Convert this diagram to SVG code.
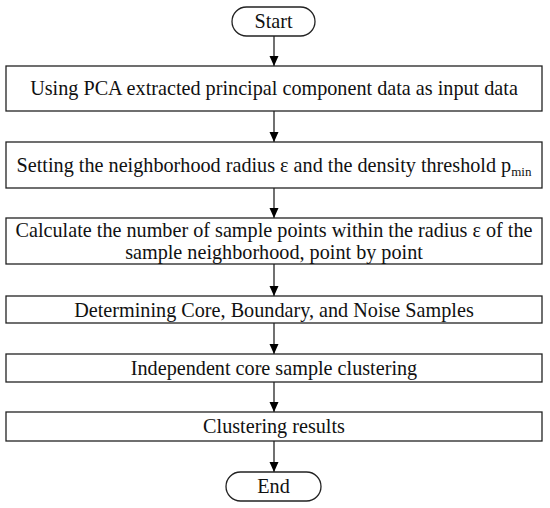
<svg xmlns="http://www.w3.org/2000/svg" width="550" height="508" viewBox="0 0 550 508">
<defs>
<marker id="ah" markerWidth="10" markerHeight="10" refX="10" refY="4.5" orient="auto" markerUnits="userSpaceOnUse">
<path d="M0,0 L10,4.5 L0,9 Z" fill="#000"/>
</marker>
<style>
.box{fill:#fff;stroke:#222;stroke-width:1.3}
.t{font-family:"Liberation Serif","Times New Roman",serif;font-size:20.2px;fill:#111;text-anchor:middle}
.c{stroke:#111;stroke-width:1.2;fill:none;marker-end:url(#ah)}
</style>
</defs>
<rect width="550" height="508" fill="#fff"/>
<g id="connectors">
<line class="c" x1="274" y1="36" x2="274" y2="66"/>
<line class="c" x1="274" y1="111" x2="274" y2="142"/>
<line class="c" x1="274" y1="188" x2="274" y2="218"/>
<line class="c" x1="274" y1="264" x2="274" y2="296"/>
<line class="c" x1="274" y1="323" x2="274" y2="354"/>
<line class="c" x1="274" y1="382" x2="274" y2="412"/>
<line class="c" x1="274" y1="441" x2="274" y2="472"/>
</g>
<g id="start">
<rect class="box" x="232" y="7" width="83" height="29" rx="14.5"/>
<text class="t" x="273.5" y="28">Start</text>
</g>
<g id="step1">
<rect class="box" x="6" y="66" width="536" height="45"/>
<text class="t" x="274" y="95">Using PCA extracted principal component data as input data</text>
</g>
<g id="step2">
<rect class="box" x="6" y="142" width="536" height="46"/>
<text class="t" x="274" y="172">Setting the neighborhood radius ε and the density threshold p<tspan font-size="13" dy="4">min</tspan></text>
</g>
<g id="step3">
<rect class="box" x="6" y="218" width="536" height="46"/>
<text class="t" x="274" y="237">Calculate the number of sample points within the radius ε of the</text>
<text class="t" x="274" y="259">sample neighborhood, point by point</text>
</g>
<g id="step4">
<rect class="box" x="6" y="296" width="536" height="27"/>
<text class="t" x="274" y="317">Determining Core, Boundary, and Noise Samples</text>
</g>
<g id="step5">
<rect class="box" x="6" y="354" width="536" height="28"/>
<text class="t" x="274" y="375">Independent core sample clustering</text>
</g>
<g id="step6">
<rect class="box" x="6" y="412" width="536" height="29"/>
<text class="t" x="274" y="433">Clustering results</text>
</g>
<g id="end">
<rect class="box" x="226" y="472" width="95" height="29" rx="14.5"/>
<text class="t" x="273.5" y="493">End</text>
</g>
</svg>
